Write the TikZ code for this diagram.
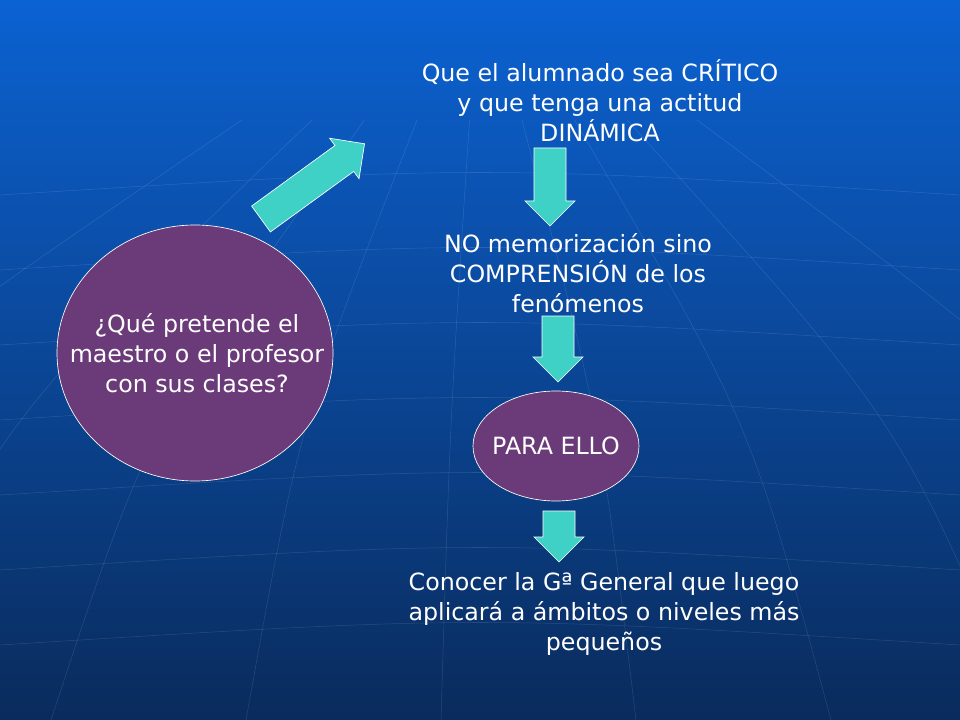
\documentclass[tikz,border=0pt]{standalone}
\usepackage{fontspec}
\setmainfont{DejaVu Sans}
\usetikzlibrary{shapes.geometric,positioning}
\definecolor{bgtop}{HTML}{0B62D2}
\definecolor{bgbot}{HTML}{0A2B5C}
\definecolor{plum}{HTML}{6B3A78}
\definecolor{aqua}{HTML}{3FD0C6}
\tikzset{
  txt/.style={align=center,text=white,font=\fontsize{17.8}{22.5}\selectfont},
  blob/.style={ellipse,draw=white,line width=0.5pt,fill=plum,inner sep=0pt},
  barrow/.style={draw=white,line width=0.5pt,fill=aqua},
}
% block arrow: start point, angle, length
\newcommand{\blockarrow}[3]{%
  \begin{scope}[shift={#1},rotate=#2]
    \draw[barrow] (0,-16) -- (#3-25,-16) -- (#3-25,-25) -- (#3,0)
      -- (#3-25,25) -- (#3-25,16) -- (0,16) -- cycle;
  \end{scope}}
\begin{document}
\begin{tikzpicture}[x=0.75pt,y=-0.75pt]
  \useasboundingbox (0,0) rectangle (960,720);
  \shade[top color=bgtop,bottom color=bgbot] (0,0) rectangle (960,720);
  % faint globe grid
  \foreach \yy in {195,270,345,420,495,570,645}
    \draw[white,opacity=0.12] (0,\yy) .. controls (480,\yy-30) .. (960,\yy);
  \foreach \xx in {-200,0,150,300,450,600,750,900,1100}
    \draw[white,opacity=0.12] (480+0.35*\xx-168,120) .. controls (\xx,420) .. (480+1.3*\xx-624,720);

  \node[blob,minimum width=276pt*0.75,minimum height=256pt*0.75] (ask) at (195,353) {};
  \node[txt] at (197,353) {¿Qué pretende el\\ maestro o el profesor\\ con sus clases?};

  \node[txt] (goal) at (600,101) {Que el alumnado sea CRÍTICO\\ y que tenga una actitud\\ DINÁMICA};
  \node[txt] (know) at (578,273) {NO memorización sino\\ COMPRENSIÓN de los\\ fenómenos};
  \node[blob,minimum width=166pt*0.75,minimum height=110pt*0.75] (ello) at (556,446) {};
  \node[txt] at (556,446) {PARA ELLO};
  \node[txt] (geo) at (604,614) {Conocer la Gª General que luego\\ aplicará a ámbitos o niveles más\\ pequeños};

  \blockarrow{(261,219)}{36}{128}
  \blockarrow{(550,148)}{-90}{78}
  \blockarrow{(558,316)}{-90}{66}
  \blockarrow{(559,511)}{-90}{51}
\end{tikzpicture}
\end{document}
